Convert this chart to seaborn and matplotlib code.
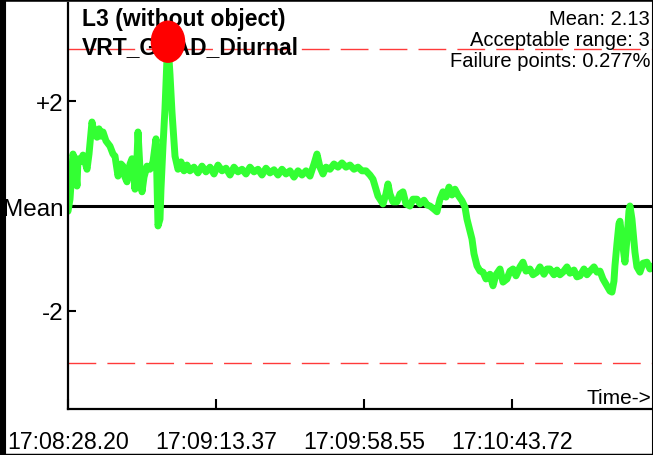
import numpy as np
import pandas as pd
import seaborn as sns
import matplotlib.pyplot as plt
from matplotlib.lines import Line2D
from matplotlib.patches import Ellipse

# ---------------------------------------------------------------------------
# Data (seconds from start, deviation from mean in units)
# ---------------------------------------------------------------------------

time_s = [
    0.00, 0.61, 1.53, 2.14, 2.75, 3.05, 3.66, 4.58, 5.19, 5.80,
    6.41, 7.32, 7.93, 8.85, 9.46, 10.07, 10.68, 11.59, 12.81, 13.73,
    14.34, 15.26, 16.17, 16.78, 17.39, 18.00, 18.92, 19.53, 20.14, 20.44,
    21.05, 21.36, 21.97, 22.58, 23.19, 24.10, 25.02, 25.93, 26.85, 27.15,
    27.46, 28.07, 28.37, 28.98, 29.59, 30.20, 30.51, 31.12, 31.73, 32.65,
    33.56, 34.48, 35.39, 36.31, 37.22, 38.44, 39.66, 40.88, 42.10, 43.33,
    44.55, 45.77, 46.99, 48.21, 49.43, 50.65, 51.87, 53.09, 54.31, 55.53,
    56.75, 57.97, 59.19, 60.41, 61.63, 62.85, 64.07, 65.29, 66.52, 67.74,
    68.96, 70.18, 71.40, 72.62, 73.84, 75.06, 75.97, 76.89, 77.80, 78.72,
    79.94, 81.16, 82.38, 83.60, 84.82, 86.04, 87.26, 88.48, 89.70, 90.92,
    92.14, 93.06, 93.97, 94.58, 95.19, 96.11, 97.02, 97.63, 98.24, 99.16,
    100.38, 101.30, 102.21, 103.13, 104.35, 105.26, 106.48, 107.40, 108.62, 109.53,
    110.45, 111.67, 112.58, 113.50, 114.41, 115.33, 116.25, 117.16, 118.08, 118.99,
    120.21, 121.13, 121.74, 122.66, 123.27, 123.88, 124.79, 125.71, 126.63, 127.54,
    128.76, 129.68, 130.59, 131.81, 132.73, 133.95, 134.86, 135.78, 136.69, 137.91,
    138.83, 139.74, 140.96, 141.88, 143.10, 144.01, 145.23, 146.15, 147.06, 148.28,
    149.20, 150.11, 151.03, 152.25, 153.16, 154.38, 155.30, 156.21, 157.44, 158.35,
    159.27, 160.49, 161.40, 162.32, 163.23, 164.45, 165.37, 165.98, 166.59, 166.89,
    167.50, 168.11, 168.42, 169.03, 169.94, 170.55, 171.16, 171.47, 172.08, 172.99,
    173.60, 174.52, 175.44, 176.65, 177.57, 178.49,
]

deviation = [
    -0.10, 0.13, 0.99, 0.80, 0.38, 0.90, 0.84, 0.97, 0.84, 0.70,
    0.99, 1.60, 1.41, 1.31, 1.47, 1.33, 1.41, 1.24, 1.14, 0.99,
    0.95, 0.57, 0.80, 0.76, 0.55, 0.46, 0.80, 0.90, 0.55, 0.32,
    0.90, 1.41, 0.70, 0.27, 0.55, 0.76, 0.70, 0.84, 1.28, 0.42,
    -0.38, -0.25, 0.32, 1.14, 1.85, 2.80, 3.09, 2.51, 1.79, 0.95,
    0.70, 0.84, 0.67, 0.78, 0.67, 0.74, 0.63, 0.76, 0.65, 0.74,
    0.61, 0.78, 0.67, 0.72, 0.59, 0.74, 0.65, 0.70, 0.61, 0.74,
    0.65, 0.70, 0.59, 0.72, 0.63, 0.69, 0.59, 0.70, 0.61, 0.67,
    0.55, 0.67, 0.59, 0.67, 0.57, 0.80, 0.99, 0.74, 0.61, 0.74,
    0.70, 0.80, 0.74, 0.82, 0.74, 0.78, 0.70, 0.74, 0.67, 0.67,
    0.59, 0.51, 0.32, 0.19, 0.13, 0.04, 0.23, 0.42, 0.23, 0.08,
    0.08, 0.23, 0.27, 0.04, 0.00, 0.13, 0.13, 0.04, 0.11, 0.02,
    0.00, -0.06, -0.11, 0.13, 0.27, 0.17, 0.36, 0.21, 0.32, 0.21,
    0.10, -0.02, -0.25, -0.48, -0.63, -0.91, -1.14, -1.24, -1.26, -1.39,
    -1.30, -1.52, -1.31, -1.20, -1.45, -1.39, -1.24, -1.20, -1.33, -1.16,
    -1.07, -1.24, -1.20, -1.31, -1.26, -1.16, -1.30, -1.20, -1.20, -1.31,
    -1.22, -1.31, -1.26, -1.16, -1.28, -1.22, -1.35, -1.33, -1.20, -1.31,
    -1.24, -1.16, -1.26, -1.24, -1.39, -1.52, -1.62, -1.64, -1.43, -1.14,
    -0.72, -0.34, -0.29, -0.63, -1.07, -0.63, -0.10, 0.00, -0.25, -0.88,
    -1.16, -1.26, -1.09, -1.07, -1.20, -1.14,
]

y_ticks = [2, 0, -2]
y_tick_labels = ["+2", "Mean", "-2"]
x_ticks = [0.0, 45.17, 90.35, 135.52]
x_tick_labels = ["17:08:28.20", "17:09:13.37", "17:09:58.55", "17:10:43.72"]

acceptable_range = 3
title_lines = ["L3 (without object)", "VRT_GRAD_Diurnal"]
stats_lines = ["Mean: 2.13", "Acceptable range: 3", "Failure points: 0.277%"]

# ---------------------------------------------------------------------------
# Plot
# ---------------------------------------------------------------------------

sns.set_theme(style="white")
plt.rcParams["font.family"] = ["Liberation Sans", "DejaVu Sans"]

df = pd.DataFrame({"t": time_s, "dev": deviation})

fig = plt.figure(figsize=(6.53, 4.56), dpi=100, facecolor="white")
ax = fig.add_axes([68 / 653, 46 / 456, 1 - 68 / 653, 406 / 456])

ax.axhline(0, color="black", lw=2.2, zorder=1)
for lvl in (acceptable_range, -acceptable_range):
    ax.axhline(lvl, color="#ff3a3a", lw=1.0, dashes=(20, 8), zorder=1)

sns.lineplot(data=df, x="t", y="dev", ax=ax, color="#33ff33", lw=5,
             solid_joinstyle="round", zorder=2)

# red marker on the worst point (drawn over the title text)
peak = df.loc[df["dev"].abs().idxmax()]
ax.add_patch(Ellipse((peak["t"], peak["dev"] + 0.04), width=10.1, height=0.78,
                     color="#ff0000", zorder=6))

ax.set_xlim(0, 178.5)
ax.set_ylim(-3.867, 3.867)
ax.set_xlabel("")
ax.set_ylabel("")
ax.set_yticks(y_ticks)
ax.set_yticklabels(y_tick_labels)
ax.set_xticks(x_ticks)
ax.set_xticklabels(x_tick_labels)
ax.tick_params(axis="y", direction="in", length=6, width=1.5, pad=3,
               labelsize=17.5, colors="black", left=True)
ax.tick_params(axis="x", direction="in", length=7, width=1.5, pad=15,
               labelsize=16.7, colors="black", bottom=True)
for side in ("top", "right"):
    ax.spines[side].set_visible(False)
for side in ("left", "bottom"):
    ax.spines[side].set_color("black")
    ax.spines[side].set_linewidth(1.6)

ax.text(0.997, 0.028, "Time->", transform=ax.transAxes, ha="right",
        va="center", fontsize=15, color="black")

ax.text(82 / 653, 1 - 8 / 456, title_lines[0], transform=fig.transFigure,
        ha="left", va="top", fontsize=16.5, fontweight="bold",
        color="black", zorder=4)
ax.text(82 / 653, 1 - 36 / 456, title_lines[1], transform=fig.transFigure,
        ha="left", va="top", fontsize=16.5, fontweight="bold",
        color="black", zorder=4)
for i, line in enumerate(stats_lines):
    fig.text(650 / 653, 1 - (10 + 21 * i) / 456, line, ha="right", va="top",
             fontsize=14.5, color="black")

# black frame round the picture
for (x0, y0, x1, y1, w) in [(0, 0, 0, 1, 8), (0, 1, 1, 1, 4),
                            (1, 0, 1, 1, 1.5), (0, 0, 1, 0, 2.5)]:
    fig.add_artist(Line2D([x0, x1], [y0, y1], transform=fig.transFigure,
                          color="black", lw=w))

fig.savefig("out.png", dpi=100, facecolor="white")
